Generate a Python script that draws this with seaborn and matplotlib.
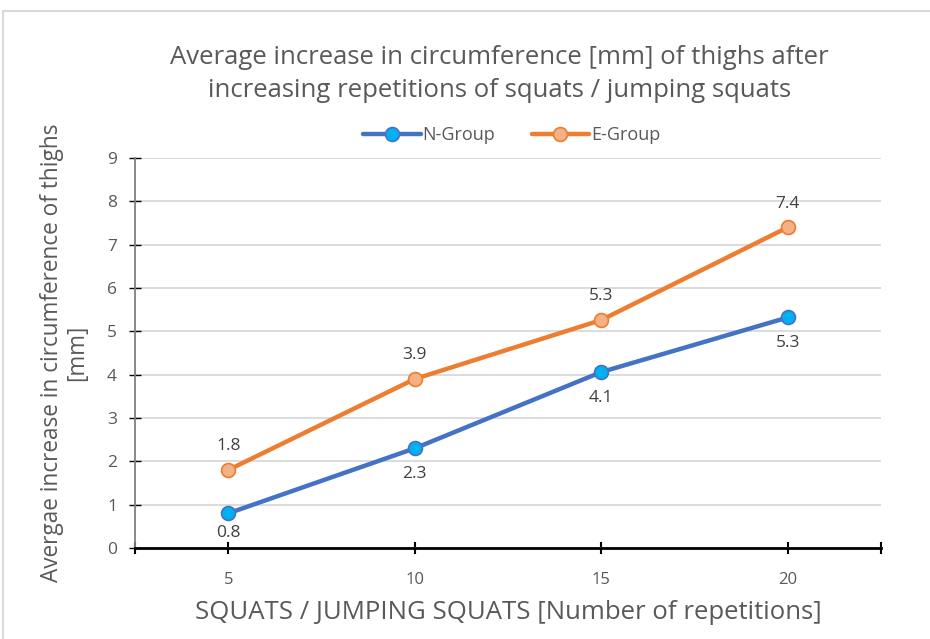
import matplotlib
matplotlib.use("Agg")
import matplotlib.pyplot as plt
import seaborn as sns
import pandas as pd
from matplotlib.patches import Rectangle

reps = [5, 10, 15, 20]
n_group = [0.8, 2.3, 4.06, 5.32]
e_group = [1.8, 3.9, 5.26, 7.4]
series_names = ["N-Group", "E-Group"]
title = "Average increase in circumference [mm] of thighs after\nincreasing repetitions of squats / jumping squats"
xlabel = "SQUATS / JUMPING SQUATS [Number of repetitions]"
ylabel = "Avergae increase in circumference of thighs\n[mm]"

df = pd.DataFrame({
    "reps": reps * 2,
    "value": n_group + e_group,
    "group": [series_names[0]] * 4 + [series_names[1]] * 4,
})

sns.set_theme(style="white")
plt.rcParams["font.family"] = ["Open Sans", "DejaVu Sans"]

fig = plt.figure(figsize=(9.3, 6.39), dpi=100)
ax = fig.add_axes([135 / 930, 1 - 548 / 639, (881 - 135) / 930, (548 - 158) / 639])

styles = {
    "N-Group": dict(color="#4472C4", mfc="#00B0F0", mec="#4472C4"),
    "E-Group": dict(color="#ED7D31", mfc="#F4B183", mec="#ED7D31"),
}
for name in series_names:
    sub = df[df["group"] == name]
    st = styles[name]
    sns.lineplot(data=sub, x="reps", y="value", ax=ax, color=st["color"], linewidth=3.2,
                 marker="o", markersize=10, markerfacecolor=st["mfc"],
                 markeredgecolor=st["mec"], markeredgewidth=1.2, label=name, zorder=3)

ax.set_xlim(2.5, 22.5)
ax.set_ylim(0, 9)

# data labels (kept inside the plot area like Excel does)
px_per_unit = ax.get_position().height * fig.get_figheight() * fig.dpi / 9.0
for x, v in zip(reps, n_group):
    off_px = min(26, v * px_per_unit - 15)
    ax.annotate(f"{v:.1f}", (x, v), xytext=(0, -off_px * 72 / fig.dpi), textcoords="offset points",
                ha="center", va="center", fontsize=12.5, color="#404040")
for x, v in zip(reps, e_group):
    ax.annotate(f"{v:.1f}", (x, v), xytext=(0, 17), textcoords="offset points",
                ha="center", va="center", fontsize=12.5, color="#404040")

ax.set_yticks(range(0, 10))
ax.set_xticks(reps)
ax.set_xticks([2.5, 22.5], minor=True)
ax.yaxis.grid(True, color="#D9D9D9", linewidth=1.3)
ax.xaxis.grid(False)
for s in ["top", "right"]:
    ax.spines[s].set_visible(False)
ax.spines["left"].set_color("#808080")
ax.spines["left"].set_linewidth(1.3)
ax.spines["bottom"].set_color("black")
ax.spines["bottom"].set_linewidth(2)
ax.tick_params(axis="y", which="major", direction="inout", length=8, width=1, color="black",
               labelsize=12.5, labelcolor="#595959", pad=9, left=True)
ax.tick_params(axis="x", which="both", direction="inout", length=8, width=1.5, color="black",
               labelsize=12, labelcolor="#595959", pad=13, bottom=True)
ax.set_xlabel(xlabel, fontsize=18.5, color="#595959", labelpad=9)
ax.set_ylabel(ylabel, fontsize=16.3, color="#595959", labelpad=13, linespacing=1.05)
ax.set_facecolor("white")

leg = ax.legend(loc="center", bbox_to_anchor=(0.505, 1.058), ncol=2, frameon=False,
                fontsize=13, handlelength=3.2, columnspacing=2.0, handletextpad=0.1)
for t in leg.get_texts():
    t.set_color("#595959")

fig.text(0.537, 1 - 74 / 639, title, ha="center", va="center", fontsize=18.5,
         color="#595959", linespacing=1.45)

fig.patches.append(Rectangle((3 / 930, -0.05), 1.1, 1 - 11 / 639 + 0.05,
                             transform=fig.transFigure, fill=False,
                             edgecolor="#D9D9D9", linewidth=1.5))

fig.savefig("out.png", dpi=100, facecolor="white")
